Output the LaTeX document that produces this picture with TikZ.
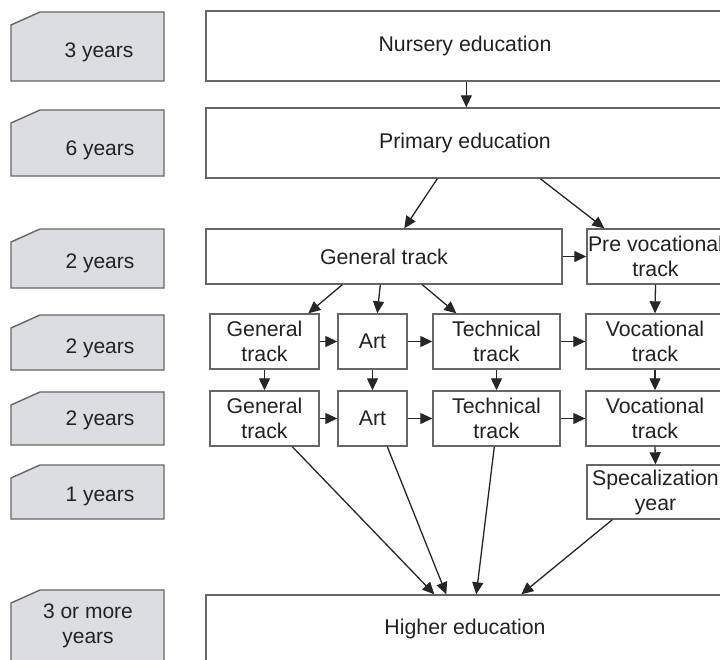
\documentclass[tikz,border=0pt]{standalone}
\usepackage{fontspec}
\setmainfont{Liberation Sans}
\usetikzlibrary{arrows.meta,calc}
\definecolor{txt}{HTML}{222222}
\definecolor{edgec}{HTML}{666666}
\definecolor{tabfill}{HTML}{DCDDE0}
\definecolor{arrc}{HTML}{262626}
\begin{document}
\begin{tikzpicture}[x=1pt,y=-1pt,
  box/.style={draw=edgec,line width=1.4pt,fill=white,inner sep=0pt,align=center,text=txt,font=\fontsize{21.3}{25}\selectfont},
  tabshape/.style={draw=edgec,line width=1.4pt,fill=tabfill},
  tabtext/.style={inner sep=0pt,text=txt,font=\fontsize{21}{25}\selectfont,align=center},
  conn/.style={draw=arrc,line width=1.3pt,-{Triangle[length=12pt,width=11pt]}}]
\useasboundingbox (0,0) rectangle (720,659);
\clip (0,0) rectangle (720,659);
\fill[white] (0,0) rectangle (720,659);

% left tabs
\draw[tabshape] (11,25) -- (40,12) -- (164,12) -- (164,81) -- (11,81) -- cycle;
\draw[tabshape] (11,123) -- (40,110) -- (164,110) -- (164,176) -- (11,176) -- cycle;
\draw[tabshape] (11,242) -- (40,229) -- (164,229) -- (164,288) -- (11,288) -- cycle;
\draw[tabshape] (11,328) -- (40,315) -- (164,315) -- (164,370) -- (11,370) -- cycle;
\draw[tabshape] (11,405) -- (40,392) -- (164,392) -- (164,445) -- (11,445) -- cycle;
\draw[tabshape] (11,478) -- (40,465) -- (164,465) -- (164,519) -- (11,519) -- cycle;
\draw[tabshape] (11,603) -- (40,590) -- (164,590) -- (164,700) -- (11,700) -- cycle;

\node[tabtext,anchor=base] (t1) at (99,57) {3 years};
\node[tabtext,anchor=base] (t2) at (100,155) {6 years};
\node[tabtext,anchor=base] (t3) at (100,268) {2 years};
\node[tabtext,anchor=base] (t4) at (100,353) {2 years};
\node[tabtext,anchor=base] (t5) at (100,425) {2 years};
\node[tabtext,anchor=base] (t6) at (100,501) {1 years};
\node[tabtext] (t7) at (88,626) {3 or more\\years};

% boxes
\node[box,minimum width=518pt,minimum height=70pt] (nurs) at (465,46) {Nursery education};
\node[box,minimum width=518pt,minimum height=70pt] (prim) at (465,143) {Primary education};
\node[box,minimum width=356pt,minimum height=55pt] (gen3) at (384,256.5) {General track};
\node[box,minimum width=137pt,minimum height=55pt] (prevoc) at (655.5,256.5) {Pre vocational\\track};

\node[box,minimum width=109pt,minimum height=55pt] (g4) at (264.5,341.5) {General\\track};
\node[box,minimum width=69pt,minimum height=55pt] (art4) at (372.5,341.5) {Art};
\node[box,minimum width=127pt,minimum height=55pt] (tech4) at (496.5,341.5) {Technical\\track};
\node[box,minimum width=138pt,minimum height=55pt] (voc4) at (655,341.5) {Vocational\\track};

\node[box,minimum width=109pt,minimum height=55pt] (g5) at (264.5,418.5) {General\\track};
\node[box,minimum width=69pt,minimum height=55pt] (art5) at (372.5,418.5) {Art};
\node[box,minimum width=127pt,minimum height=55pt] (tech5) at (496.5,418.5) {Technical\\track};
\node[box,minimum width=138pt,minimum height=55pt] (voc5) at (655,418.5) {Vocational\\track};

\node[box,minimum width=137pt,minimum height=54pt] (spec) at (655.5,492) {Specalization\\year};
\node[box,minimum width=518pt,minimum height=68pt] (high) at (465,629) {Higher education};

% connectors
\draw[conn] ([xshift=261pt]nurs.south west) -- ([xshift=261pt]prim.north west);
\draw[conn] ([xshift=232pt]prim.south west) -- ([xshift=199pt]gen3.north west);
\draw[conn] ([xshift=335pt]prim.south west) -- ([xshift=18pt]prevoc.north west);
\draw[conn] (gen3.east) -- (prevoc.west);

\draw[conn] ([xshift=137pt]gen3.south west) -- ([xshift=99pt]g4.north west);
\draw[conn] ([xshift=175pt]gen3.south west) -- ([xshift=40pt]art4.north west);
\draw[conn] ([xshift=217pt]gen3.south west) -- ([xshift=24pt]tech4.north west);
\draw[conn] (prevoc.south) -- (voc4.north);

\draw[conn] (g4.east) -- (art4.west);
\draw[conn] (art4.east) -- (tech4.west);
\draw[conn] (tech4.east) -- (voc4.west);
\draw[conn] (g5.east) -- (art5.west);
\draw[conn] (art5.east) -- (tech5.west);
\draw[conn] (tech5.east) -- (voc5.west);

\draw[conn] (g4.south) -- (g5.north);
\draw[conn] (art4.south) -- (art5.north);
\draw[conn] (tech4.south) -- (tech5.north);
\draw[conn] (voc4.south) -- (voc5.north);
\draw[conn] (voc5.south) -- (spec.north);

\draw[conn] ([xshift=83pt]g5.south west) -- ([xshift=229pt]high.north west);
\draw[conn] ([xshift=50pt]art5.south west) -- ([xshift=241pt]high.north west);
\draw[conn] ([xshift=62pt]tech5.south west) -- ([xshift=271pt]high.north west);
\draw[conn] ([xshift=26pt]spec.south west) -- ([xshift=316pt]high.north west);
\end{tikzpicture}
\end{document}
